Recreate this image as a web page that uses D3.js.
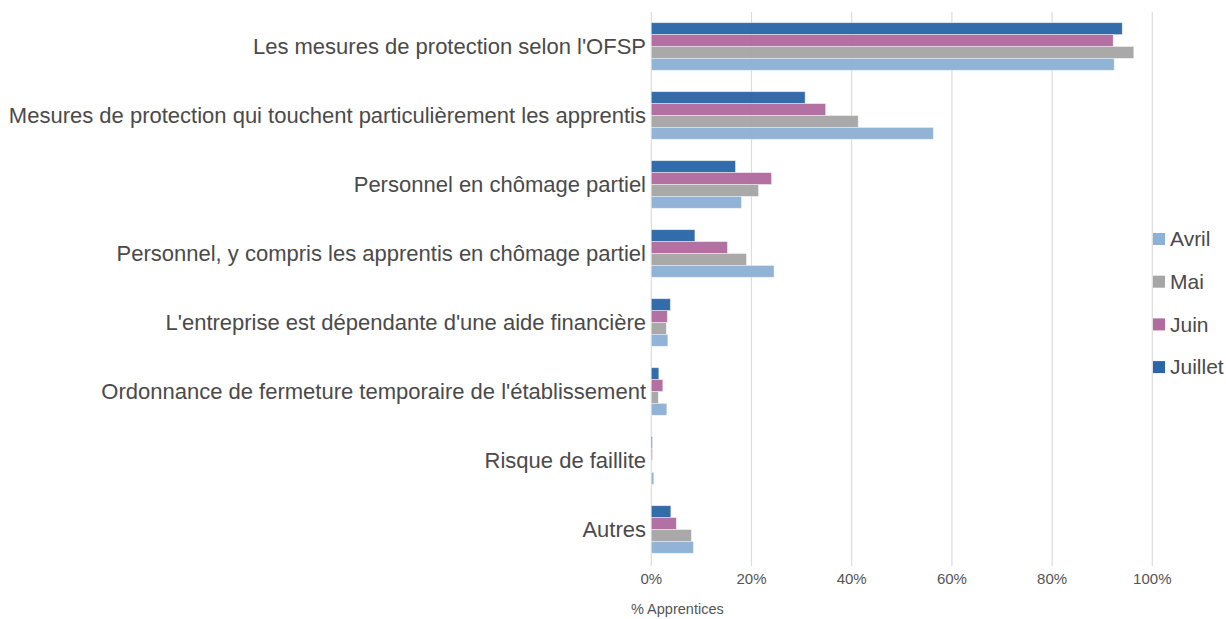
<!DOCTYPE html>
<html><head><meta charset="utf-8">
<script src="https://cdn.jsdelivr.net/npm/d3@7"></script>
<style>body{margin:0;background:#fff;} svg{display:block;font-family:"Liberation Sans",Arial,sans-serif;}</style>
</head><body><svg id="c" width="1226" height="619"></svg>
<script>
const categories = [
  "Les mesures de protection selon l'OFSP",
  "Mesures de protection qui touchent particulièrement les apprentis",
  "Personnel en chômage partiel",
  "Personnel, y compris les apprentis en chômage partiel",
  "L'entreprise est dépendante d'une aide financière",
  "Ordonnance de fermeture temporaire de l'établissement",
  "Risque de faillite",
  "Autres"
];
const seriesNames = ["Juillet", "Juin", "Mai", "Avril"];
const juillet = [94.0, 30.7, 16.8, 8.7, 3.8, 1.5, 0.2, 3.9];
const juin    = [92.2, 34.8, 24.0, 15.2, 3.2, 2.3, 0.2, 5.0];
const mai     = [96.3, 41.3, 21.4, 19.0, 3.0, 1.4, 0.1, 8.0];
const avril   = [92.4, 56.3, 18.0, 24.5, 3.3, 3.1, 0.5, 8.4];
const seriesValues = [juillet, juin, mai, avril];
const seriesColors = ["#2b67a7", "#b06c9f", "#a6a6a6", "#8db2d5"];
const legendOrder = ["Avril", "Mai", "Juin", "Juillet"];
const ticks = [0, 20, 40, 60, 80, 100];

const svg = d3.select("#c");
const x = d3.scaleLinear().domain([0, 100]).range([651.3, 1152.3]);
const y = d3.scaleBand().domain(categories).range([12, 564]).paddingInner(0.31).paddingOuter(0.155);
const ySub = d3.scaleBand().domain(seriesNames).range([0, y.bandwidth()]);

// gridlines
svg.append("g").selectAll("line").data(ticks).join("line")
  .attr("x1", d => x(d)).attr("x2", d => x(d))
  .attr("y1", 12).attr("y2", 566)
  .attr("stroke", "#dcdcdc").attr("stroke-width", 1.2);

// bars
const groups = svg.append("g").selectAll("g").data(categories).join("g")
  .attr("transform", d => `translate(0,${y(d)})`);
groups.selectAll("rect").data((d, i) => seriesNames.map((s, j) => ({s, v: seriesValues[j][i], c: seriesColors[j]})))
  .join("rect")
  .attr("x", x(0))
  .attr("y", d => ySub(d.s))
  .attr("width", d => x(d.v) - x(0))
  .attr("height", ySub.bandwidth())
  .attr("fill", d => d.c)
  .attr("fill-opacity", 0.97)
  .attr("stroke", "#ffffff").attr("stroke-opacity", 0.5).attr("stroke-width", 0.8);

// category labels
svg.append("g").selectAll("text").data(categories).join("text")
  .attr("x", 646).attr("y", d => y(d) + y.bandwidth() / 2)
  .attr("dy", "0.35em").attr("text-anchor", "end")
  .attr("font-size", 22).attr("fill", "#4a4a4a")
  .text(d => d);

// x-axis tick labels
svg.append("g").selectAll("text").data(ticks).join("text")
  .attr("x", d => x(d)).attr("y", 584)
  .attr("text-anchor", "middle").attr("font-size", 15).attr("fill", "#555")
  .text(d => d + "%");

svg.append("text").attr("x", 631).attr("y", 614).attr("font-size", 14.5).attr("fill", "#555")
  .text("% Apprentices");

// legend
const lg = svg.append("g").selectAll("g").data(legendOrder).join("g")
  .attr("transform", (d, i) => `translate(1153,${239 + i * 42.7})`);
lg.append("rect").attr("x", 0).attr("y", -6).attr("width", 12).attr("height", 12)
  .attr("fill", d => seriesColors[seriesNames.indexOf(d)]);
lg.append("text").attr("x", 17).attr("dy", "0.35em").attr("font-size", 21).attr("fill", "#4a4a4a")
  .text(d => d);
</script></body></html>
